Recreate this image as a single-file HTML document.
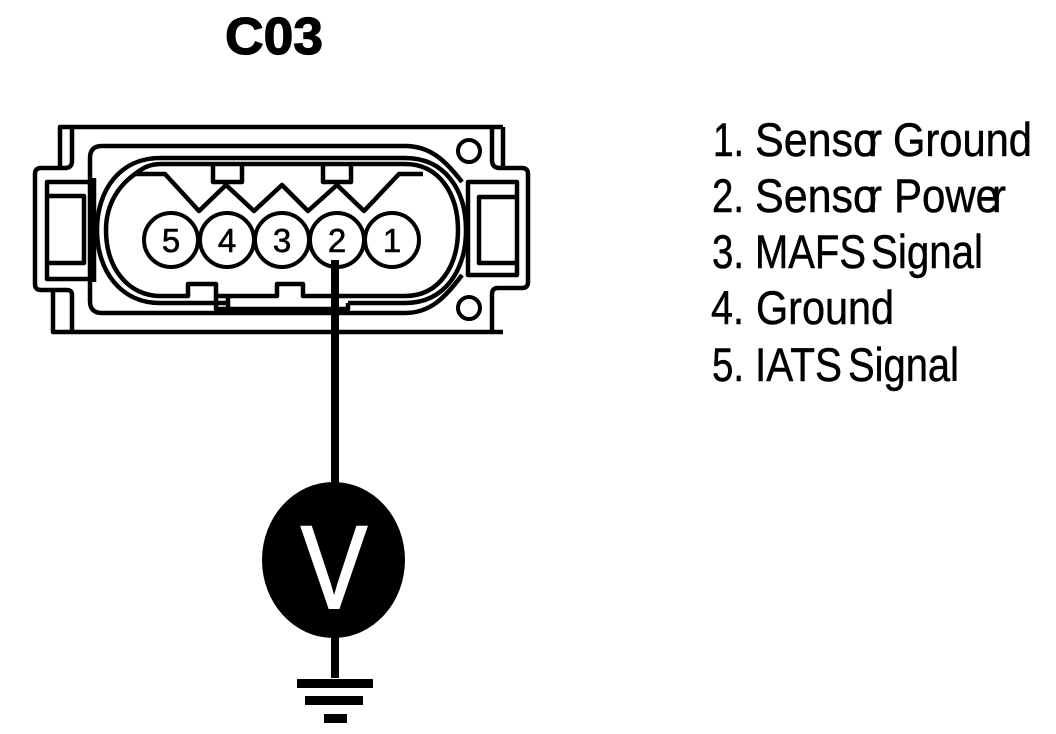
<!DOCTYPE html>
<html>
<head>
<meta charset="utf-8">
<style>
html,body{margin:0;padding:0;background:#fff;width:1056px;height:734px;overflow:hidden}
svg{display:block}
text{font-family:"Liberation Sans",sans-serif;fill:#000}
.l text{font-size:47px;stroke:#000;stroke-width:.5px}
.d{font-size:33px;text-anchor:middle;stroke:#000;stroke-width:.6px}
</style>
</head>
<body>
<svg width="1056" height="734" viewBox="0 0 1056 734" xmlns="http://www.w3.org/2000/svg">
<g fill="none" stroke="#000" stroke-width="4.5" stroke-linejoin="round">
  <!-- outer housing -->
  <path d="M503 127H60V168"/>
  <path d="M72 128V161Q72 168 65 168H41Q35 168 35 174V284Q35 290 41 290H67Q72 290 72 295V332"/>
  <path d="M53 291V332H503"/>
  <path d="M503 127V168"/>
  <path d="M492 128V160Q492 168 500 168H522Q528 168 528 174V282Q528 288 522 288H498Q492 288 492 294V332"/>
  <!-- inner frame -->
  <path d="M462 182C445 160 430 146 405 146H102Q90 146 90 158V301Q90 313 102 313H405C430 313 445 298 462 275"/>
  <!-- windows -->
  <path d="M94 178V282M94 182H47V279H94"/>
  <path d="M47 196H84V263H47"/>
  <path d="M517 182H468V275H517Z"/>
  <path d="M517 197H479V263H517"/>
  <!-- outer oval -->
  <path d="M228 303H160C120 303 97 270 97 230C97 190 120 158 160 158H405C445 158 466 190 466 230C466 270 445 303 405 303H348"/>
  <!-- inner contour -->
  <path d="M135 174C145 166 152 164 162 164H405C440 164 458 195 458 230C458 265 440 296 405 296H303V284H277V296H216V284H188V296H160C130 296 106 270 106 230C106 205 118 186 135 174Z"/>
  <!-- zigzag -->
  <path d="M135 174H165L199 211L226 185L254 211L282 185L308 211L337 185L364 211L399 174H423"/>
  <!-- tabs -->
  <path d="M213 165V182H242V165"/>
  <path d="M323 165V182H351V165"/>
  <!-- bottom bar -->
  <path d="M216 296V309H348V303"/>
  <path d="M228 298V308"/>
</g>
<g fill="#fff" stroke="#000" stroke-width="4">
  <circle cx="171" cy="240" r="27"/>
  <circle cx="227" cy="240" r="27"/>
  <circle cx="282" cy="240" r="27"/>
  <circle cx="337" cy="240" r="27"/>
  <circle cx="392" cy="240" r="27"/>
  <circle cx="469" cy="151" r="11"/>
  <circle cx="469" cy="308" r="11"/>
</g>
<text class="d" x="171" y="252">5</text>
<text class="d" x="227" y="252">4</text>
<text class="d" x="282" y="252">3</text>
<text class="d" x="337" y="252">2</text>
<text class="d" x="392" y="252">1</text>

<!-- wire and meter -->
<rect x="331" y="260" width="8" height="418" fill="#000"/>
<ellipse cx="333.5" cy="560" rx="71.5" ry="78" fill="#000"/>
<text x="0" y="0" font-size="118" style="fill:#fff;stroke:#fff;stroke-width:2px" transform="translate(301 608) scale(.84 1)">V</text>
<rect x="297" y="679" width="76" height="9" fill="#000"/>
<rect x="305" y="696" width="58" height="9" fill="#000"/>
<rect x="324" y="714" width="23" height="9" fill="#000"/>

<!-- title -->
<text x="225" y="54" font-size="52" font-weight="700" textLength="98" lengthAdjust="spacingAndGlyphs" style="stroke:#000;stroke-width:1.2px">C03</text>

<!-- legend -->
<g class="l">
<text x="713" y="156" textLength="31" lengthAdjust="spacingAndGlyphs">1.</text>
<text x="755" y="156" textLength="122" lengthAdjust="spacingAndGlyphs">Senso</text>
<text x="868" y="156" textLength="14" lengthAdjust="spacingAndGlyphs">r</text>
<text x="893" y="156" textLength="139" lengthAdjust="spacingAndGlyphs">Ground</text>

<text x="712" y="212" textLength="32" lengthAdjust="spacingAndGlyphs">2.</text>
<text x="755" y="212" textLength="122" lengthAdjust="spacingAndGlyphs">Senso</text>
<text x="868" y="212" textLength="14" lengthAdjust="spacingAndGlyphs">r</text>
<text x="894" y="212" textLength="105" lengthAdjust="spacingAndGlyphs">Powe</text>
<text x="992" y="212" textLength="14" lengthAdjust="spacingAndGlyphs">r</text>

<text x="712" y="268" textLength="32" lengthAdjust="spacingAndGlyphs">3.</text>
<text x="755" y="268" textLength="111" lengthAdjust="spacingAndGlyphs">MAFS</text>
<text x="871" y="268" textLength="112" lengthAdjust="spacingAndGlyphs">Signal</text>

<text x="711" y="324" textLength="33" lengthAdjust="spacingAndGlyphs">4.</text>
<text x="756" y="324" textLength="138" lengthAdjust="spacingAndGlyphs">Ground</text>

<text x="712" y="381" textLength="32" lengthAdjust="spacingAndGlyphs">5.</text>
<text x="755" y="381" textLength="87" lengthAdjust="spacingAndGlyphs">IATS</text>
<text x="848" y="381" textLength="111" lengthAdjust="spacingAndGlyphs">Signal</text>
</g>
</svg>
</body>
</html>
